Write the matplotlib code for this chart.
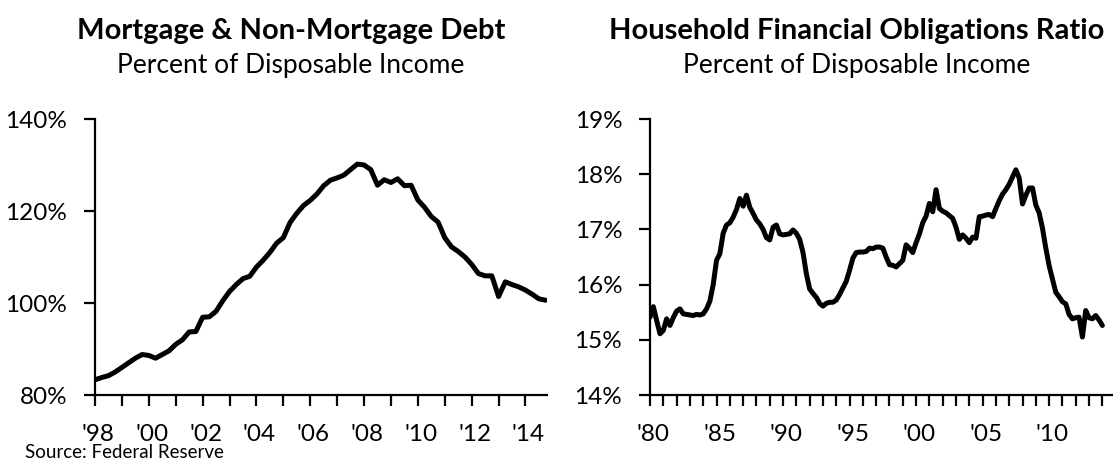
"""Mortgage debt and household financial obligations, two side-by-side panels."""

import matplotlib

matplotlib.use("Agg")
import matplotlib.pyplot as plt
from matplotlib.ticker import FixedLocator, FuncFormatter
from matplotlib.transforms import ScaledTranslation

plt.rcParams["font.family"] = ["Lato", "DejaVu Sans"]

# Left panel: quarterly, 1998Q1 .. 2014Q4
DEBT_START = 1998
DEBT = [
    83.3, 83.8, 84.2, 85.0,
    86.0, 87.0, 88.0, 88.8,
    88.6, 88.0, 88.8, 89.6,
    91.0, 92.0, 93.7, 93.8,
    96.9, 97.0, 98.2, 100.5,
    102.5, 104.0, 105.3, 105.8,
    107.8, 109.3, 111.0, 113.0,
    114.2, 117.5, 119.5, 121.2,
    122.3, 123.7, 125.5, 126.7,
    127.2, 127.8, 129.0, 130.2,
    130.0, 129.0, 125.6, 126.8,
    126.2, 127.0, 125.5, 125.6,
    122.4, 120.8, 118.8, 117.6,
    114.2, 112.2, 111.2, 110.0,
    108.4, 106.4, 105.9, 105.9,
    101.4, 104.6, 104.0, 103.5,
    102.8, 101.9, 100.9, 100.6,
]
DEBT_YTICKS = [80, 100, 120, 140]
DEBT_XTICKS = list(range(1998, 2015))

# Right panel: quarterly, 1980Q1 .. 2014Q1
FOR_START = 1980
FOR = [
    15.41, 15.60, 15.35, 15.11,
    15.17, 15.38, 15.26, 15.40,
    15.52, 15.56, 15.47, 15.46,
    15.45, 15.44, 15.46, 15.45,
    15.47, 15.56, 15.70, 16.00,
    16.44, 16.56, 16.93, 17.08,
    17.12, 17.22, 17.36, 17.56,
    17.42, 17.62, 17.40, 17.29,
    17.17, 17.10, 17.00, 16.85,
    16.81, 17.04, 17.08, 16.92,
    16.90, 16.91, 16.92, 16.99,
    16.93, 16.82, 16.58, 16.20,
    15.92, 15.84, 15.77, 15.66,
    15.61, 15.66, 15.68, 15.68,
    15.72, 15.82, 15.94, 16.06,
    16.26, 16.48, 16.58, 16.59,
    16.59, 16.60, 16.66, 16.65,
    16.68, 16.68, 16.66, 16.50,
    16.36, 16.35, 16.32, 16.38,
    16.44, 16.72, 16.66, 16.58,
    16.76, 16.92, 17.12, 17.24,
    17.47, 17.32, 17.72, 17.38,
    17.33, 17.30, 17.25, 17.20,
    17.04, 16.82, 16.90, 16.84,
    16.76, 16.86, 16.84, 17.23,
    17.24, 17.26, 17.27, 17.23,
    17.38, 17.52, 17.64, 17.72,
    17.82, 17.95, 18.08, 17.93,
    17.46, 17.62, 17.75, 17.75,
    17.44, 17.30, 17.02, 16.66,
    16.34, 16.10, 15.86, 15.78,
    15.69, 15.65, 15.46, 15.38,
    15.40, 15.41, 15.05, 15.53,
    15.40, 15.38, 15.44, 15.36,
    15.26,
]
FOR_YTICKS = [14, 15, 16, 17, 18, 19]
FOR_XTICKS = list(range(1980, 2015))


def year_label(every, last):
    def fmt(v, pos):
        y = int(round(v))
        if y % every or y > last:
            return ""
        return f"'{y % 100:02d}"
    return FuncFormatter(fmt)


def style_axis(ax, fig):
    for side in ("top", "right"):
        ax.spines[side].set_visible(False)
    for side in ("left", "bottom"):
        ax.spines[side].set_linewidth(1.6)
    ax.yaxis.set_major_formatter(FuncFormatter(lambda v, pos: f"{v:.0f}%"))
    ax.tick_params(axis="both", direction="out", length=8, width=1.6, labelsize=17.5, colors="black")
    ax.tick_params(axis="x", pad=13)
    ax.tick_params(axis="y", pad=12)
    # labels in the original sit a few pixels right of their tick
    shift = ScaledTranslation(3 / 100, 0, fig.dpi_scale_trans)
    for lab in ax.get_xticklabels():
        lab.set_transform(lab.get_transform() + shift)


def main() -> None:
    fig = plt.figure(figsize=(11.13, 4.66), dpi=100)

    # left panel
    ax1 = fig.add_axes([95 / 1113, 71 / 466, 452 / 1113, 276 / 466])
    x1 = [DEBT_START + i / 4 for i in range(len(DEBT))]
    ax1.plot(x1, DEBT, color="black", lw=3.6, solid_joinstyle="round", solid_capstyle="round")
    ax1.set_xlim(1998, 2014.8)
    ax1.set_ylim(80, 140)
    ax1.set_yticks(DEBT_YTICKS)
    ax1.xaxis.set_major_locator(FixedLocator(DEBT_XTICKS))
    ax1.xaxis.set_major_formatter(year_label(2, 2014))
    style_axis(ax1, fig)

    # right panel
    ax2 = fig.add_axes([650 / 1113, 71 / 466, 463 / 1113, 276 / 466])
    x2 = [FOR_START + i / 4 for i in range(len(FOR))]
    ax2.plot(x2, FOR, color="black", lw=3.6, solid_joinstyle="round", solid_capstyle="round")
    ax2.set_xlim(1980, 2014.8)
    ax2.set_ylim(14, 19)
    ax2.set_yticks(FOR_YTICKS)
    ax2.xaxis.set_major_locator(FixedLocator(FOR_XTICKS))
    ax2.xaxis.set_major_formatter(year_label(5, 2010))
    style_axis(ax2, fig)

    title_kw = dict(ha="center", va="center", fontsize=21, fontweight="bold")
    sub_kw = dict(ha="center", va="center", fontsize=19)
    fig.text(291 / 1113, 1 - 31 / 466, "Mortgage & Non-Mortgage Debt", **title_kw)
    fig.text(291 / 1113, 1 - 65 / 466, "Percent of Disposable Income", **sub_kw)
    fig.text(857 / 1113, 1 - 31 / 466, "Household Financial Obligations Ratio", **title_kw)
    fig.text(857 / 1113, 1 - 65 / 466, "Percent of Disposable Income", **sub_kw)
    fig.text(25 / 1113, 1 - 453 / 466, "Source: Federal Reserve", ha="left", va="center",
             fontsize=13.5)

    fig.savefig("out.png", dpi=100)
    plt.close(fig)


if __name__ == "__main__":
    main()
